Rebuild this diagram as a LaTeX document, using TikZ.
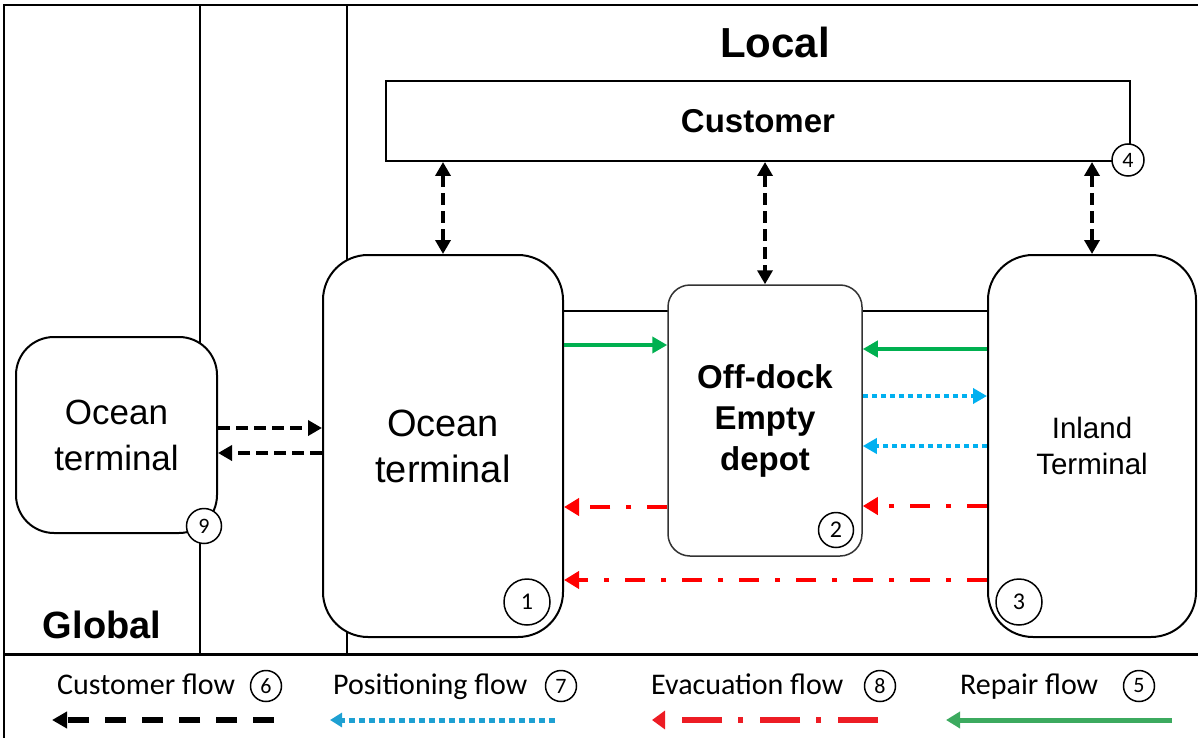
\documentclass[tikz,border=0pt]{standalone}
\usepackage{fontspec}
\setmainfont{Liberation Sans}
\newfontfamily\keyfont{Carlito}
\usetikzlibrary{arrows.meta}
\usetikzlibrary{positioning}
\definecolor{repairgreen}{RGB}{0,176,80}
\definecolor{keygreen}{RGB}{60,170,95}
\definecolor{positionblue}{RGB}{0,176,240}
\definecolor{keyblue}{RGB}{30,160,210}
\definecolor{evacred}{RGB}{255,0,0}
\definecolor{keyred}{RGB}{237,28,36}
\tikzset{frame/.style = {line width=2pt},
         box/.style = {draw, line width=2pt, fill=white, align=center, inner sep=0pt},
         tag/.style = {draw, circle, line width=1.5pt, fill=white, inner sep=0pt,
                       font=\keyfont\fontsize{24}{24}\selectfont},
         smalltag/.style = {tag, font=\keyfont\fontsize{22}{22}\selectfont},
         key/.style = {inner sep=0pt, font=\keyfont\fontsize{30}{30}\selectfont},
         customerflow/.style = {line width=4.5pt, dash pattern=on 12pt off 6pt,
                                >={Triangle[length=14pt,width=15pt]}, ->},
         repairflow/.style = {repairgreen, line width=4pt,
                              >={Triangle[length=15pt,width=16pt]}, ->},
         positioningflow/.style = {positionblue, line width=4pt, dash pattern=on 5pt off 4pt,
                                   >={Triangle[length=14pt,width=15pt]}, ->},
         evacuationflow/.style = {evacred, line width=4.5pt, dash pattern=on 20pt off 16pt on 5pt off 16pt,
                                  >={Triangle[length=15pt,width=17pt]}, ->},
         customerkey/.style = {line width=5.5pt, dash pattern=on 21pt off 16pt,
                               >={Triangle[length=15pt,width=16pt]}, ->},
         positioningkey/.style = {keyblue, line width=5pt, dash pattern=on 6pt off 4pt,
                                  >={Triangle[length=12pt,width=14pt]}, ->},
         evacuationkey/.style = {keyred, line width=6pt, dash pattern=on 40pt off 17pt on 5pt off 16pt,
                                 >={Triangle[length=13pt,width=18pt]}, ->},
         repairkey/.style = {keygreen, line width=5pt,
                             >={Triangle[length=14pt,width=16pt]}, ->}}

\begin{document}
\begin{tikzpicture}[x=1pt, y=-1pt]
  \useasboundingbox (0,0) rectangle (1198,738);
  \draw [frame] (4,738) -- (4,5) -- (1198,5);
  \draw [frame] (200,5) -- (200,654);
  \draw [frame] (347,5) -- (347,654);
  \draw [line width=3pt] (4,654) -- (1198,654);

  \node [font=\bfseries\fontsize{42}{42}\selectfont] (local) at (775,42) {Local};
  \node [font=\bfseries\fontsize{38}{38}\selectfont] (global) at (102,625) {Global};

  \node [box, minimum width=744pt, minimum height=80pt, font=\bfseries\fontsize{33}{33}\selectfont]
        (customer) at (758,121) {Customer};
  \node [box, rounded corners=38pt, minimum width=201pt, minimum height=196pt, font=\fontsize{35}{46}\selectfont]
        (gocean) at (116.5,435) {Ocean\\terminal};
  \node [box, rounded corners=45pt, minimum width=240pt, minimum height=382pt, font=\fontsize{38}{46}\selectfont]
        (ocean) at (443,446) {Ocean\\terminal};
  \node [box, rounded corners=45pt, minimum width=208pt, minimum height=382pt, font=\fontsize{29.5}{36}\selectfont]
        (inland) at (1092,446) {Inland\\Terminal};
  \coordinate (link) at (0,311);
  \draw [frame] (ocean.east |- link) -- (inland.west |- link);
  \node [box, draw=black!80, line width=1.5pt, rounded corners=22pt, minimum width=194pt, minimum height=271pt,
         font=\bfseries\fontsize{33}{41}\selectfont] (depot) at (765,420.5) {Off-dock\\Empty\\depot};

  \node [smalltag, minimum size=35pt] (tag9) at (204,526) {9};
  \node [tag, minimum size=46pt] (tag1) at (527,602) {1};
  \node [tag, minimum size=35pt] (tag2) at (836,530) {2};
  \node [tag, minimum size=46pt] (tag3) at (1019,602) {3};
  \node [smalltag, minimum size=32pt] (tag4) at (1128,160) {4};

  \draw [customerflow] (gocean.east |- 0,428) -- (ocean.west |- 0,428);
  \draw [customerflow] (ocean.west |- 0,453) -- (gocean.east |- 0,453);
  \draw [customerflow, <->] (customer.south -| ocean.north) -- (ocean.north);
  \draw [customerflow, <->] (customer.south -| depot.north) -- (depot.north);
  \draw [customerflow, <->] (customer.south -| inland.north) -- (inland.north);

  \draw [repairflow] (ocean.east |- 0,345) -- (depot.west |- 0,345);
  \draw [repairflow] (inland.west |- 0,349) -- (depot.east |- 0,349);
  \draw [positioningflow] (depot.east |- 0,396) -- (inland.west |- 0,396);
  \draw [positioningflow] (inland.west |- 0,446) -- (depot.east |- 0,446);
  \draw [evacuationflow] (depot.west |- 0,507) -- (ocean.east |- 0,507);
  \draw [evacuationflow] (inland.west |- 0,506) -- (depot.east |- 0,506);
  \draw [evacuationflow] (inland.west |- 0,580) -- (ocean.east |- 0,580);

  \node [key, anchor=base west] (keycustomer) at (57,694) {Customer flow};
  \node [smalltag, minimum size=31pt] (tag6) at (266,686) {6};
  \coordinate (keystart6) at (274,720);
  \coordinate (keyend6) at (52,720);
  \draw [customerkey] (keystart6) -- (keyend6);

  \node [key, anchor=base west] (keypositioning) at (333,694) {Positioning flow};
  \node [smalltag, minimum size=31pt] (tag7) at (561,686) {7};
  \coordinate (keystart7) at (555,720);
  \coordinate (keyend7) at (330,720);
  \draw [positioningkey] (keystart7) -- (keyend7);

  \node [key, anchor=base west] (keyevacuation) at (651,694) {Evacuation flow};
  \node [smalltag, minimum size=31pt] (tag8) at (880,686) {8};
  \coordinate (keystart8) at (878,720);
  \coordinate (keyend8) at (652,720);
  \draw [evacuationkey] (keystart8) -- (keyend8);

  \node [key, anchor=base west] (keyrepair) at (960,694) {Repair flow};
  \node [smalltag, minimum size=31pt] (tag5) at (1139,686) {5};
  \coordinate (keystart5) at (1172,720);
  \coordinate (keyend5) at (946,720);
  \draw [repairkey] (keystart5) -- (keyend5);
\end{tikzpicture}
\end{document}
